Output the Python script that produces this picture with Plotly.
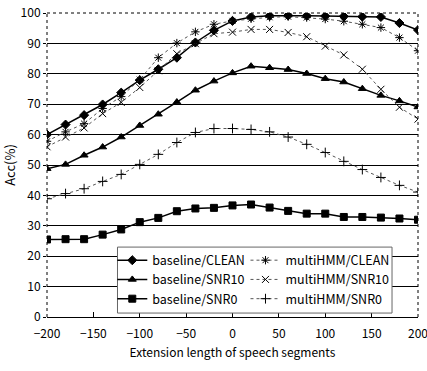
import plotly.graph_objects as go

x_vals = [-200, -180, -160, -140, -120, -100, -80, -60, -40, -20, 0,
          20, 40, 60, 80, 100, 120, 140, 160, 180, 200]

baseline_clean = [60.0, 63.3, 66.4, 69.9, 73.8, 77.9, 81.5, 85.3, 90.3, 94.3, 97.4,
                  98.7, 99.1, 99.2, 99.1, 99.0, 98.9, 98.8, 98.7, 96.7, 94.4]
baseline_snr10 = [48.8, 50.2, 53.2, 55.9, 59.2, 63.0, 66.7, 70.7, 74.6, 77.6, 80.3,
                  82.5, 82.0, 81.4, 80.1, 78.4, 77.3, 75.1, 72.9, 71.1, 69.1]
baseline_snr0 = [25.5, 25.6, 25.6, 27.1, 28.8, 31.2, 32.6, 34.8, 35.7, 35.9, 36.7,
                 37.0, 36.0, 34.9, 34.0, 34.0, 32.9, 32.9, 32.7, 32.4, 32.0]
multi_clean = [57.8, 60.9, 63.6, 68.6, 72.5, 78.1, 85.3, 90.1, 93.8, 96.3, 97.4,
               98.1, 98.6, 98.8, 98.5, 98.0, 97.3, 96.3, 95.2, 91.9, 87.6]
multi_snr10 = [56.0, 59.2, 62.2, 66.9, 70.6, 75.5, 81.0, 86.6, 89.9, 93.2, 93.7,
               94.6, 94.6, 93.6, 92.2, 89.1, 86.2, 81.5, 74.9, 69.0, 65.1]
multi_snr0 = [38.9, 40.6, 42.2, 44.6, 46.9, 50.2, 53.5, 57.4, 60.7, 62.0, 62.0,
              61.7, 60.9, 59.2, 56.8, 54.1, 51.2, 48.5, 45.9, 43.3, 41.1]

x_ticks = [-200, -150, -100, -50, 0, 50, 100, 150, 200]
y_ticks = [0, 10, 20, 30, 40, 50, 60, 70, 80, 90, 100]

FONT = "Noto Sans CJK JP, Noto Sans, sans-serif"

series = [
    ("baseline/CLEAN", baseline_clean, "diamond", "black", "solid", 1.5, 7, "legend"),
    ("baseline/SNR10", baseline_snr10, "triangle-up", "black", "solid", 1.5, 7, "legend"),
    ("baseline/SNR0", baseline_snr0, "square", "black", "solid", 1.5, 7, "legend"),
    ("multiHMM/CLEAN", multi_clean, "asterisk-open", "#555555", "dot", 1, 7, "legend2"),
    ("multiHMM/SNR10", multi_snr10, "x-thin-open", "#555555", "dot", 1, 7, "legend2"),
    ("multiHMM/SNR0", multi_snr0, "cross-thin-open", "#555555", "dot", 1, 7, "legend2"),
]

fig = go.Figure()
for name, ys, sym, col, dash, w, ms, lg in series:
    fig.add_trace(go.Scatter(
        x=x_vals, y=ys, name=name, mode="lines+markers", legend=lg,
        line=dict(color=col, dash=dash, width=w),
        marker=dict(symbol=sym, size=ms, color="black",
                    line=dict(color="black", width=1)),
    ))

leg_common = dict(
    orientation="v", yanchor="top", xanchor="left",
    bgcolor="rgba(0,0,0,0)", borderwidth=0,
    font=dict(family=FONT, size=12.5, color="black"),
    itemwidth=30, tracegroupgap=0,
)

fig.update_layout(
    width=427, height=371,
    margin=dict(l=47, r=9, t=13, b=54, autoexpand=False),
    paper_bgcolor="white", plot_bgcolor="white",
    font=dict(family=FONT, size=12, color="black"),
    showlegend=True,
    legend=dict(x=0.176, y=0.235, **leg_common),
    legend2=dict(x=0.535, y=0.235, **leg_common),
    xaxis=dict(
        range=[-200, 200], tickvals=x_ticks,
        ticktext=[str(v).replace("-", "−") for v in x_ticks],
        showgrid=False, zeroline=False, showline=True, linecolor="black", linewidth=1,
        ticks="inside", ticklen=5, tickcolor="black",
        title=dict(text="Extension length of speech segments", font=dict(size=12), standoff=8),
        tickfont=dict(size=12), ticklabeloverflow="allow", ticklabelstandoff=6,
    ),
    yaxis=dict(
        range=[0, 100], tickvals=y_ticks,
        showgrid=True, gridcolor="black", gridwidth=1, zeroline=False,
        showline=False, ticks="outside", ticklen=3, tickcolor="black",
        tickfont=dict(size=12),
        title=dict(text="Acc(%)", font=dict(size=13), standoff=6),
    ),
)

# legend frame
fig.add_shape(type="rect", xref="paper", yref="paper", x0=0.19, x1=0.93, y0=0.013, y1=0.23,
              line=dict(color="#666666", width=1), fillcolor="white", layer="above")

# dotted frame on left, right and top
for x0, x1, y0, y1 in [(0, 0, 0, 1), (1, 1, 0, 1), (0, 1, 1, 1)]:
    fig.add_shape(type="line", xref="paper", yref="paper", x0=x0, x1=x1, y0=y0, y1=y1,
                  line=dict(color="black", width=1, dash="dot"))

fig.write_html("out.html", config={"displayModeBar": False},
               post_script="document.body.style.margin='0';")
